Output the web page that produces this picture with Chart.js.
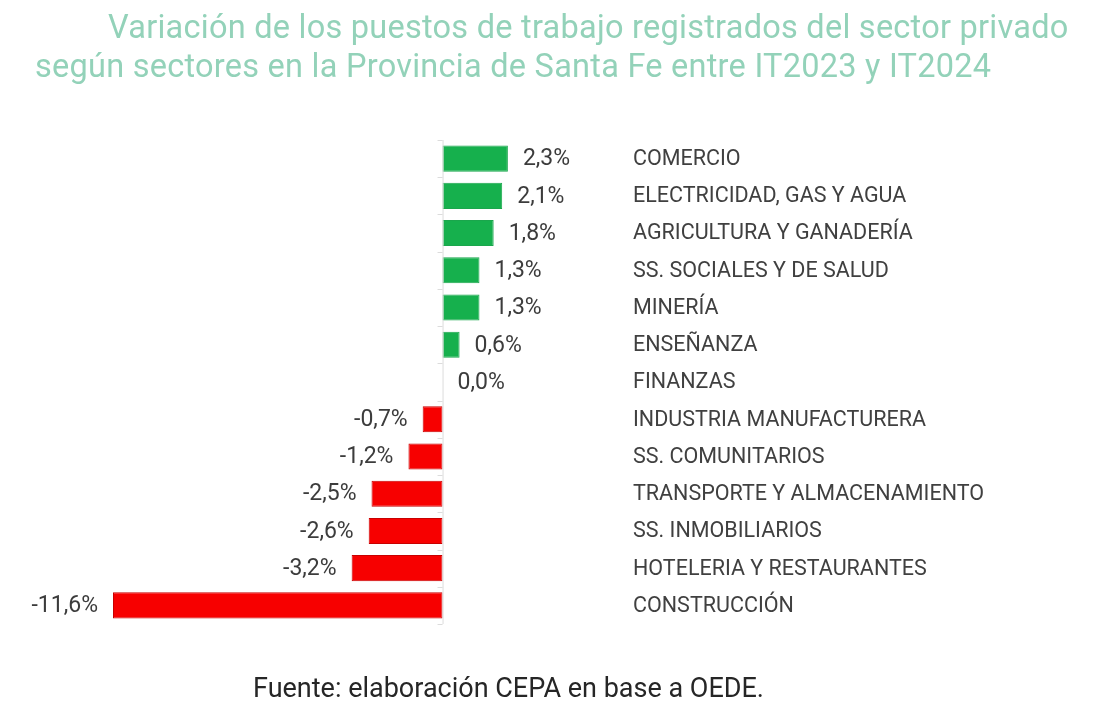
<!DOCTYPE html>
<html>
<head>
<meta charset="utf-8">
<script src="https://cdn.jsdelivr.net/npm/chart.js@4.4.0/dist/chart.umd.min.js"></script>
<style>
  html, body { margin: 0; padding: 0; background: #ffffff; }
  #wrap { position: relative; width: 1108px; height: 720px; overflow: hidden; font-family: Roboto, sans-serif; }
  #c { position: absolute; left: 0; top: 0; }
  .t { position: absolute; white-space: nowrap; color: #93d2b9; font-size: 32.5px; line-height: 36px; letter-spacing: 0.25px; }
  #src { position: absolute; white-space: nowrap; color: #262626; font-size: 27px; left: 253px; top: 673px; line-height: 30px; }
</style>
</head>
<body>
<div id="wrap">
  <canvas id="c" width="1108" height="720"></canvas>
  <div class="t" style="left:108px; top:9px;">Variación de los puestos de trabajo registrados del sector privado</div>
  <div class="t" style="left:35px; top:48px;">según sectores en la Provincia de Santa Fe entre IT2023 y IT2024</div>
  <div id="src">Fuente: elaboración CEPA en base a OEDE.</div>
</div>
<script>
const categories = [
  "COMERCIO",
  "ELECTRICIDAD, GAS Y AGUA",
  "AGRICULTURA Y GANADERÍA",
  "SS. SOCIALES Y DE SALUD",
  "MINERÍA",
  "ENSEÑANZA",
  "FINANZAS",
  "INDUSTRIA MANUFACTURERA",
  "SS. COMUNITARIOS",
  "TRANSPORTE Y ALMACENAMIENTO",
  "SS. INMOBILIARIOS",
  "HOTELERIA Y RESTAURANTES",
  "CONSTRUCCIÓN"
];
const variation = [2.3, 2.1, 1.8, 1.3, 1.3, 0.6, 0.0, -0.7, -1.2, -2.5, -2.6, -3.2, -11.6];

const fmt = v => v.toFixed(1).replace('.', ',') + '%';

const labelsPlugin = {
  id: 'labelsPlugin',
  afterDatasetsDraw(chart) {
    const ctx = chart.ctx;
    const meta = chart.getDatasetMeta(0);
    const xs = chart.scales.x;
    const x0 = xs.getPixelForValue(0);
    ctx.save();
    ctx.strokeStyle = '#dcdcdc';
    ctx.lineWidth = 1;
    ctx.beginPath();
    ctx.moveTo(x0 + 0.5, chart.chartArea.top);
    ctx.lineTo(x0 + 0.5, chart.chartArea.bottom);
    ctx.stroke();
    const band = (chart.chartArea.bottom - chart.chartArea.top) / categories.length;
    for (let i = 0; i <= categories.length; i++) {
      const y = Math.round(chart.chartArea.top + i * band) + 0.5;
      ctx.beginPath();
      ctx.moveTo(x0 - 5, y);
      ctx.lineTo(x0, y);
      ctx.stroke();
    }
    ctx.textBaseline = 'middle';
    meta.data.forEach((bar, i) => {
      const v = variation[i];
      const y = bar.y;
      ctx.font = '23px Roboto';
      ctx.fillStyle = '#3c3c3c';
      if (v >= 0) {
        ctx.textAlign = 'left';
        ctx.fillText(fmt(v), bar.x + 15, y + 1);
      } else {
        ctx.textAlign = 'right';
        ctx.fillText(fmt(v), bar.x - 15, y + 1);
      }
      ctx.font = '21.5px Roboto';
      ctx.textAlign = 'left';
      ctx.fillStyle = '#404040';
      ctx.fillText(categories[i], 633, y + 1);
    });
    ctx.restore();
  }
};

new Chart(document.getElementById('c'), {
  type: 'bar',
  data: {
    labels: categories,
    datasets: [{
      data: variation,
      backgroundColor: variation.map(v => v >= 0 ? '#16b04d' : '#f70000'),
      borderColor: variation.map(v => v >= 0 ? '#1aa64c' : '#c80000'),
      borderWidth: 1,
      borderSkipped: false,
      barPercentage: 0.7,
      categoryPercentage: 1.0
    }]
  },
  options: {
    indexAxis: 'y',
    responsive: false,
    animation: false,
    events: [],
    layout: { padding: { left: 113, right: 495, top: 140, bottom: 96 } },
    plugins: { legend: { display: false }, title: { display: false }, tooltip: { enabled: false } },
    scales: {
      x: { display: false, min: -11.6, max: 6.0 },
      y: { display: false }
    }
  },
  plugins: [labelsPlugin]
});
</script>
</body>
</html>
